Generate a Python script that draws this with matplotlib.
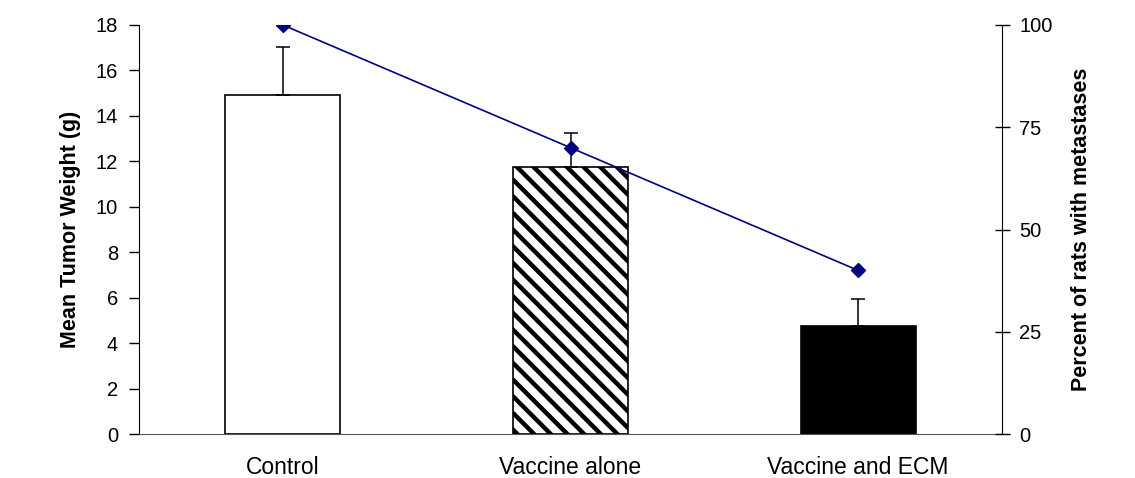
import numpy as np
import matplotlib
matplotlib.use("Agg")
import matplotlib.pyplot as plt

plt.rcParams['font.family'] = ['Liberation Sans', 'DejaVu Sans']
plt.rcParams['hatch.linewidth'] = 3.2

# dati
groups = ['Control', 'Vaccine alone', 'Vaccine and ECM']
tumor_weight = [14.92, 11.77, 4.75]
tumor_err = [2.13, 1.49, 1.18]
pct_metastases = [100, 70, 40]

bar_colors = ['white', 'white', 'black']
bar_hatches = ['', '\\\\', '']

fig = plt.figure(figsize=(11.35, 4.78), dpi=100)
ax = fig.add_axes([0.1225, 0.092, 0.7603, 0.8557])

x = np.arange(len(groups))
bars = ax.bar(x, tumor_weight, width=0.4, color=bar_colors,
              edgecolor='black', linewidth=1.2, zorder=2)
for b, h in zip(bars, bar_hatches):
    b.set_hatch(h)

ax.errorbar(x, tumor_weight, yerr=[np.zeros(3), tumor_err], fmt='none',
            ecolor='black', elinewidth=1.1, capsize=4.7, capthick=1.1, zorder=3)

ax.set_xlim(-0.5, 2.5)
ax.set_ylim(0, 18)
ax.set_yticks(np.arange(0, 19, 2))
ax.set_xticks(x)
ax.set_xticklabels(groups, fontsize=16.5)
ax.tick_params(axis='x', length=0, pad=16)
ax.tick_params(axis='y', direction='out', length=7, width=1, labelsize=14.5, pad=8)
ax.set_ylabel('Mean Tumor Weight (g)', fontsize=15.5, fontweight='bold', labelpad=11)

ax.spines['top'].set_visible(False)
ax.spines['right'].set_visible(False)
ax.spines['bottom'].set_color('#555555')

# asse destro: percentuale metastasi
ax2 = ax.twinx()
ax2.plot(x, pct_metastases, color='#000080', linewidth=1.2,
         marker='D', markersize=7, zorder=5)
ax2.set_ylim(0, 100)
ax2.set_yticks([0, 25, 50, 75, 100])
ax2.tick_params(axis='y', direction='inout', length=10.8, width=1, labelsize=14.5, pad=7)
ax2.set_ylabel('Percent of rats with metastases', fontsize=15.5,
               fontweight='bold', labelpad=13)
ax2.spines['top'].set_visible(False)
ax2.spines['left'].set_visible(False)
ax2.spines['bottom'].set_visible(False)

plt.savefig('out.png', dpi=100)
